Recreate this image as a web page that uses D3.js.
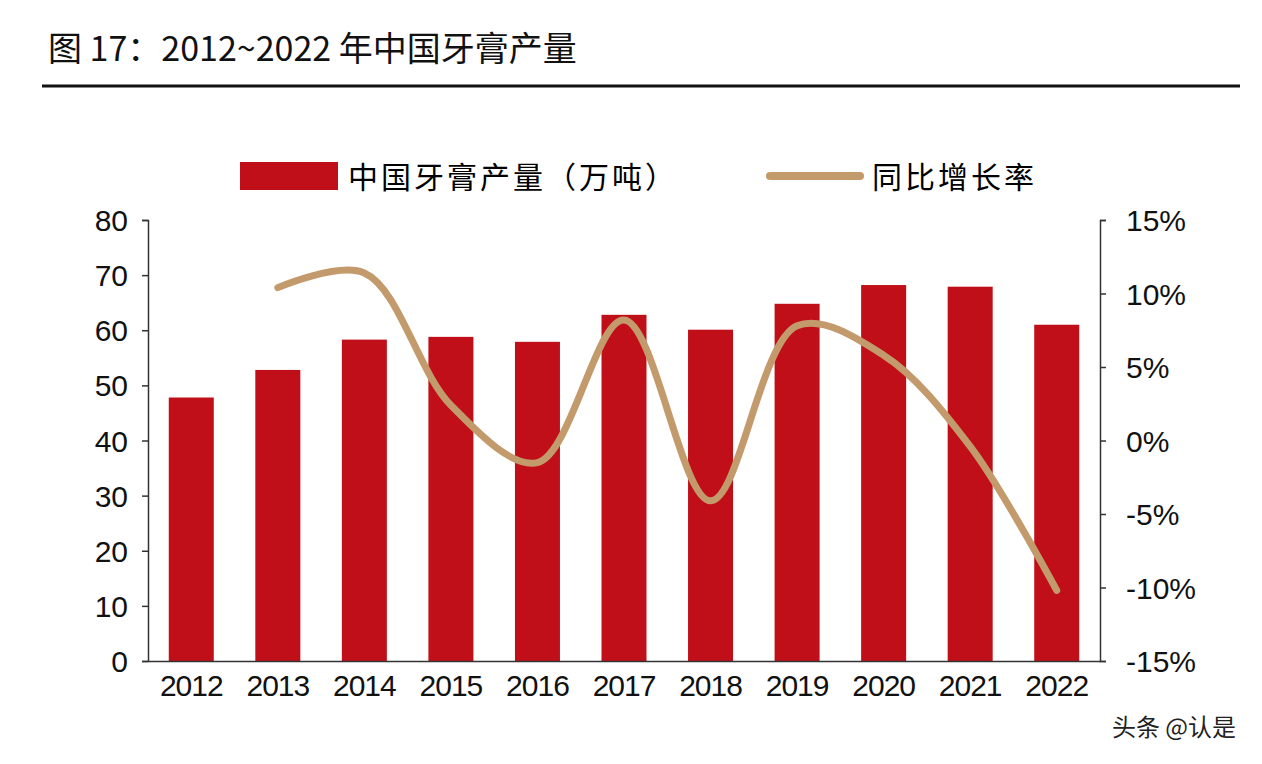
<!DOCTYPE html>
<html><head><meta charset="utf-8">
<script src="https://cdn.jsdelivr.net/npm/d3@7"></script>
<style>body{margin:0;background:#fff}</style>
</head><body>
<script>
const years = ["2012","2013","2014","2015","2016","2017","2018","2019","2020","2021","2022"]
const output = [47.8, 52.8, 58.3, 58.8, 57.9, 62.8, 60.1, 64.8, 68.2, 67.9, 61.0]
const growth = [null, 10.4, 11.4, 2.4, -1.5, 8.2, -4.1, 7.8, 5.8, -0.4, -10.2]
const leftTicks = [0,10,20,30,40,50,60,70,80]
const rightTicks = [-15,-10,-5,0,5,10,15]

const W = 1262, H = 764
const margin = {left: 148, right: 162, top: 220, bottom: 103}
const width = W - margin.left - margin.right
const height = H - margin.top - margin.bottom
const font = "'Liberation Sans', Arial, sans-serif"
const cjk = "'Noto Sans CJK SC', sans-serif"

const svg = d3.select("body").append("svg").attr("width", W).attr("height", H)

// title
svg.append("text").attr("x", 48).attr("y", 61).attr("font-size", "34px")
  .attr("font-family", cjk).attr("fill", "#111").text("图 17：2012~2022 年中国牙膏产量")
svg.append("line").attr("x1", 42).attr("x2", 1240).attr("y1", 86).attr("y2", 86)
  .attr("stroke", "#111").attr("stroke-width", 3)

// legend
svg.append("rect").attr("x", 240).attr("y", 162).attr("width", 98).attr("height", 28).attr("fill", "#c00f18")
svg.append("text").attr("x", 348).attr("y", 188).attr("font-size", "30px").attr("font-family", cjk)
  .attr("letter-spacing", "3px").text("中国牙膏产量（万吨）")
svg.append("line").attr("x1", 770).attr("x2", 860).attr("y1", 176).attr("y2", 176)
  .attr("stroke", "#c39a6b").attr("stroke-width", 8).attr("stroke-linecap", "round")
svg.append("text").attr("x", 872).attr("y", 188).attr("font-size", "30px").attr("font-family", cjk)
  .attr("letter-spacing", "3px").text("同比增长率")

const g = svg.append("g").attr("transform", "translate(" + margin.left + "," + margin.top + ")")

const xs = d3.scaleBand().domain(years).range([0, width]).paddingInner(0.48).paddingOuter(0.24)
const ys = d3.scaleLinear().domain([0, 80]).range([height, 0])
const yr = d3.scaleLinear().domain([-15, 15]).range([height, 0])

g.selectAll("rect.bar").data(output).enter().append("rect")
  .attr("class", "bar")
  .attr("x", (d, i) => xs(years[i]))
  .attr("y", d => ys(d))
  .attr("width", xs.bandwidth())
  .attr("height", d => height - ys(d))
  .attr("fill", "#c00f18")

const line = d3.line()
  .defined(d => d != null)
  .x((d, i) => xs(years[i]) + xs.bandwidth() / 2)
  .y(d => yr(d))
  .curve(d3.curveCatmullRom.alpha(0.5))
g.append("path").datum(growth).attr("d", line)
  .attr("fill", "none").attr("stroke", "#c39a6b").attr("stroke-width", 7).attr("stroke-linecap", "round")

function style(sel) {
  sel.selectAll("text").attr("font-size", "30px").attr("font-family", font).attr("fill", "#111")
  sel.selectAll("line,path").attr("stroke", "#333").attr("stroke-width", 1.5)
}
const ax = g.append("g").attr("transform", "translate(0," + height + ")")
  .call(d3.axisBottom(xs).tickSize(0).tickPadding(14))
style(ax)
ax.selectAll("text").attr("letter-spacing", "-1px")
const axl = g.append("g").call(d3.axisLeft(ys).tickValues(leftTicks).tickSize(6).tickPadding(14))
style(axl)
const axr = g.append("g").attr("transform", "translate(" + width + ",0)")
  .call(d3.axisRight(yr).tickValues(rightTicks).tickSize(6).tickPadding(20).tickFormat(d => d + "%"))
style(axr)
axl.selectAll("text").attr("dy", "0.35em")
axr.selectAll("text").attr("dy", "0.35em")

// watermark
svg.append("text").attr("x", 1236).attr("y", 736).attr("text-anchor", "end")
  .attr("font-size", "24px").attr("font-family", cjk).attr("fill", "#222").text("头条 @认是")
</script>
</body></html>
